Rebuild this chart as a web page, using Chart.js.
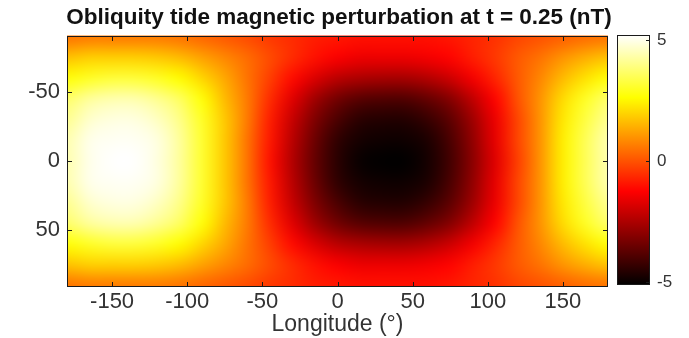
<!DOCTYPE html>
<html><head><meta charset="utf-8">
<script src="https://cdn.jsdelivr.net/npm/chart.js@4/dist/chart.umd.min.js"></script>
<style>
html,body{margin:0;padding:0;background:#fff;overflow:hidden}
#wrap{position:relative;width:689px;height:338px;background:#fff}
#main{position:absolute;left:0;top:0;width:689px;height:338px}
#cbar{position:absolute;left:600px;top:0;width:89px;height:338px}
</style></head><body>
<div id="wrap"><canvas id="main" width="689" height="338"></canvas><canvas id="cbar" width="89" height="338"></canvas></div>
<script>
// ---- data ----
const titleText = 'Obliquity tide magnetic perturbation at t = 0.25 (nT)';
const xLabel = 'Longitude (°)';
const longitudes = [-180,-165,-150,-135,-120,-105,-90,-75,-60,-45,-30,-15,0,15,30,45,60,75,90,105,120,135,150,165,180];
const latitudes = [-90,-75,-60,-45,-30,-15,0,15,30,45,60,75,90];
const xTicks = [-150,-100,-50,0,50,100,150];
const yTicks = [-50,0,50];
const cbTicks = [-5,0,5];
const cbRange = [-5.12, 5.21];
// values (nT) per latitude row, one entry per longitude
const latM90 = [0.5,0.6,0.6,0.6,0.6,0.5,0.3,0.1,-0.1,-0.4,-0.6,-0.8,-0.9,-1.0,-1.0,-1.0,-1.0,-0.9,-0.7,-0.5,-0.2,0.0,0.2,0.4,0.5];
const latM75 = [1.7,1.9,1.9,1.9,1.8,1.6,1.2,0.8,0.4,-0.1,-0.6,-1.0,-1.3,-1.5,-1.5,-1.5,-1.4,-1.2,-0.8,-0.4,0.1,0.5,1.0,1.4,1.7];
const latM60 = [2.7,3.0,3.2,3.2,3.0,2.6,2.0,1.3,0.5,-0.3,-1.1,-1.8,-2.3,-2.5,-2.6,-2.6,-2.4,-2.0,-1.4,-0.7,0.1,0.8,1.6,2.2,2.7];
const latM45 = [3.7,4.2,4.4,4.4,4.1,3.6,2.7,1.6,0.6,-0.6,-1.7,-2.7,-3.4,-3.8,-3.9,-3.9,-3.6,-3.1,-2.2,-1.2,0.0,1.0,2.1,3.0,3.7];
const latM30 = [4.1,4.7,4.9,4.9,4.6,4.0,3.0,1.8,0.6,-0.8,-2.1,-3.2,-4.0,-4.5,-4.6,-4.6,-4.3,-3.7,-2.7,-1.5,-0.2,1.0,2.3,3.3,4.1];
const latM15 = [4.4,5.0,5.1,5.1,4.9,4.2,3.1,1.8,0.5,-0.9,-2.3,-3.5,-4.4,-4.8,-4.9,-4.9,-4.7,-4.0,-2.9,-1.6,-0.2,1.0,2.4,3.5,4.4];
const lat0   = [4.4,5.0,5.2,5.2,4.9,4.2,3.1,1.8,0.5,-1.0,-2.4,-3.6,-4.5,-5.0,-5.1,-5.1,-4.8,-4.1,-3.0,-1.7,-0.3,1.0,2.4,3.5,4.4];
const latP15 = [4.4,5.0,5.1,5.1,4.9,4.2,3.1,1.8,0.5,-0.9,-2.3,-3.5,-4.4,-4.8,-4.9,-4.9,-4.7,-4.0,-2.9,-1.6,-0.2,1.0,2.4,3.5,4.4];
const latP30 = [4.1,4.7,4.9,4.9,4.6,4.0,3.0,1.8,0.6,-0.8,-2.1,-3.2,-4.0,-4.5,-4.6,-4.6,-4.3,-3.7,-2.7,-1.5,-0.2,1.0,2.3,3.3,4.1];
const latP45 = [3.7,4.2,4.4,4.4,4.1,3.6,2.7,1.6,0.6,-0.6,-1.7,-2.7,-3.4,-3.8,-3.9,-3.9,-3.6,-3.1,-2.2,-1.2,0.0,1.0,2.1,3.0,3.7];
const latP60 = [2.7,3.0,3.2,3.2,3.0,2.6,2.0,1.3,0.5,-0.3,-1.1,-1.8,-2.3,-2.5,-2.6,-2.6,-2.4,-2.0,-1.4,-0.7,0.1,0.8,1.6,2.2,2.7];
const latP75 = [1.7,1.9,1.9,1.9,1.8,1.6,1.2,0.8,0.4,-0.1,-0.6,-1.0,-1.3,-1.5,-1.5,-1.5,-1.4,-1.2,-0.8,-0.4,0.1,0.5,1.0,1.4,1.7];
const latP90 = [0.5,0.6,0.6,0.6,0.6,0.5,0.3,0.1,-0.1,-0.4,-0.6,-0.8,-0.9,-1.0,-1.0,-1.0,-1.0,-0.9,-0.7,-0.5,-0.2,0.0,0.2,0.4,0.5];
const grid = [latM90,latM75,latM60,latM45,latM30,latM15,lat0,latP15,latP30,latP45,latP60,latP75,latP90];

// ---- helpers ----
const FONT = "'Liberation Sans', Arial, Helvetica, sans-serif";
function hot(v){
  let f = (v - cbRange[0]) / (cbRange[1] - cbRange[0]);
  f = Math.max(0, Math.min(1, f));
  const r = Math.min(1, f / 0.375);
  const g = Math.max(0, Math.min(1, (f - 0.375) / 0.375));
  const b = Math.max(0, Math.min(1, (f - 0.75) / 0.25));
  return [Math.round(r*255), Math.round(g*255), Math.round(b*255)];
}
const points = [];
latitudes.forEach((la,i)=>longitudes.forEach((lo,j)=>points.push({x:lo,y:la,v:grid[i][j]})));

const heatPlugin = {
  id:'heat',
  beforeDatasetsDraw(chart){
    const {ctx, chartArea:ca, scales:{x,y}} = chart;
    const nx = longitudes.length, ny = latitudes.length;
    const off = document.createElement('canvas');
    off.width = nx; off.height = ny;
    const octx = off.getContext('2d');
    const img = octx.createImageData(nx, ny);
    for (let i=0;i<ny;i++) for (let j=0;j<nx;j++){
      const c = hot(grid[i][j]); const k = (i*nx+j)*4;
      img.data[k]=c[0]; img.data[k+1]=c[1]; img.data[k+2]=c[2]; img.data[k+3]=255;
    }
    octx.putImageData(img,0,0);
    const dLon = longitudes[1]-longitudes[0], dLat = latitudes[1]-latitudes[0];
    const x0 = x.getPixelForValue(longitudes[0]-dLon/2), x1 = x.getPixelForValue(longitudes[nx-1]+dLon/2);
    const y0 = y.getPixelForValue(latitudes[0]-dLat/2), y1 = y.getPixelForValue(latitudes[ny-1]+dLat/2);
    ctx.save();
    ctx.beginPath(); ctx.rect(ca.left, ca.top, ca.right-ca.left, ca.bottom-ca.top); ctx.clip();
    ctx.imageSmoothingEnabled = true; ctx.imageSmoothingQuality = 'high';
    ctx.drawImage(off, x0, y0, x1-x0, y1-y0);
    ctx.restore();
  },
  afterDraw(chart){
    const {ctx, chartArea:ca, scales:{x,y}} = chart;
    const l=Math.round(ca.left), r=Math.round(ca.right), t=Math.round(ca.top), b=Math.round(ca.bottom);
    ctx.save();
    ctx.strokeStyle='#1a1a1a'; ctx.lineWidth=1;
    ctx.strokeRect(l+0.5, t+0.5, r-l-1, b-t-1);
    ctx.beginPath();
    xTicks.forEach(v=>{const px=Math.round(x.getPixelForValue(v))+0.5; ctx.moveTo(px,b); ctx.lineTo(px,b-5); ctx.moveTo(px,t); ctx.lineTo(px,t+5);});
    yTicks.forEach(v=>{const py=Math.round(y.getPixelForValue(v))+0.5; ctx.moveTo(l,py); ctx.lineTo(l+5,py); ctx.moveTo(r,py); ctx.lineTo(r-5,py);});
    ctx.stroke();
    // title, centred over the full figure (axes + colorbar) like the reference
    ctx.fillStyle='#111';
    ctx.font = "bold 22.5px " + FONT;
    ctx.textAlign='center'; ctx.textBaseline='middle';
    ctx.fillText(titleText, 339, 17.5);
    ctx.restore();
  }
};

const tickFont = {family:FONT, size:22};
new Chart(document.getElementById('main'), {
  type:'scatter',
  data:{datasets:[{data:points, pointRadius:0, showLine:false}]},
  options:{
    responsive:false, animation:false, events:[],
    layout:{padding:{left:0,right:81,top:35.5,bottom:0}},
    plugins:{
      legend:{display:false}, tooltip:{enabled:false},
      title:{display:false, text:titleText}
    },
    scales:{
      x:{type:'linear', min:-180, max:180,
        afterBuildTicks:s=>{s.ticks = xTicks.map(v=>({value:v}));},
        afterFit:s=>{s.height=51;},
        grid:{display:false, drawTicks:false}, border:{display:false},
        ticks:{padding:2, font:tickFont, color:'#333', maxRotation:0, autoSkip:false},
        title:{display:true, text:xLabel, font:{family:FONT, size:23}, color:'#333', padding:0}},
      y:{type:'linear', min:-91, max:91, reverse:true,
        afterBuildTicks:s=>{s.ticks = yTicks.map(v=>({value:v}));},
        afterFit:s=>{s.width=67;},
        grid:{display:false, drawTicks:false}, border:{display:false},
        ticks:{padding:7, font:tickFont, color:'#333', autoSkip:false}}
    }
  },
  plugins:[heatPlugin]
});

const cbPlugin = {
  id:'cb',
  beforeDatasetsDraw(chart){
    const {ctx, chartArea:ca, scales:{y}} = chart;
    const yb = y.getPixelForValue(cbRange[0]), yt = y.getPixelForValue(cbRange[1]);
    const g = ctx.createLinearGradient(0, yb, 0, yt);
    g.addColorStop(0,'rgb(0,0,0)'); g.addColorStop(0.375,'rgb(255,0,0)');
    g.addColorStop(0.75,'rgb(255,255,0)'); g.addColorStop(1,'rgb(255,255,255)');
    ctx.save(); ctx.fillStyle=g; ctx.fillRect(ca.left, ca.top, ca.right-ca.left, ca.bottom-ca.top); ctx.restore();
  },
  afterDraw(chart){
    const {ctx, chartArea:ca, scales:{y}} = chart;
    const l=Math.round(ca.left), r=Math.round(ca.right), t=Math.round(ca.top), b=Math.round(ca.bottom);
    ctx.save(); ctx.strokeStyle='#1a1a1a'; ctx.lineWidth=1;
    ctx.strokeRect(l+0.5, t+0.5, r-l-1, b-t-1);
    ctx.beginPath();
    cbTicks.forEach(v=>{const py=Math.round(y.getPixelForValue(v))+0.5; ctx.moveTo(r,py); ctx.lineTo(r-4,py);});
    ctx.stroke(); ctx.restore();
  }
};
new Chart(document.getElementById('cbar'), {
  type:'scatter',
  data:{datasets:[{data:[], pointRadius:0}]},
  options:{
    responsive:false, animation:false, events:[],
    layout:{padding:{left:17,right:0,top:35,bottom:53}},
    plugins:{legend:{display:false}, tooltip:{enabled:false}},
    scales:{
      x:{display:false, min:0, max:1},
      y:{type:'linear', position:'right', min:cbRange[0], max:cbRange[1],
        afterBuildTicks:s=>{s.ticks = cbTicks.map(v=>({value:v}));},
        afterFit:s=>{s.width=39;},
        grid:{display:false, drawTicks:false}, border:{display:false},
        ticks:{padding:7, font:{family:FONT, size:17}, color:'#333'}}
    }
  },
  plugins:[cbPlugin]
});
</script>
</body></html>
